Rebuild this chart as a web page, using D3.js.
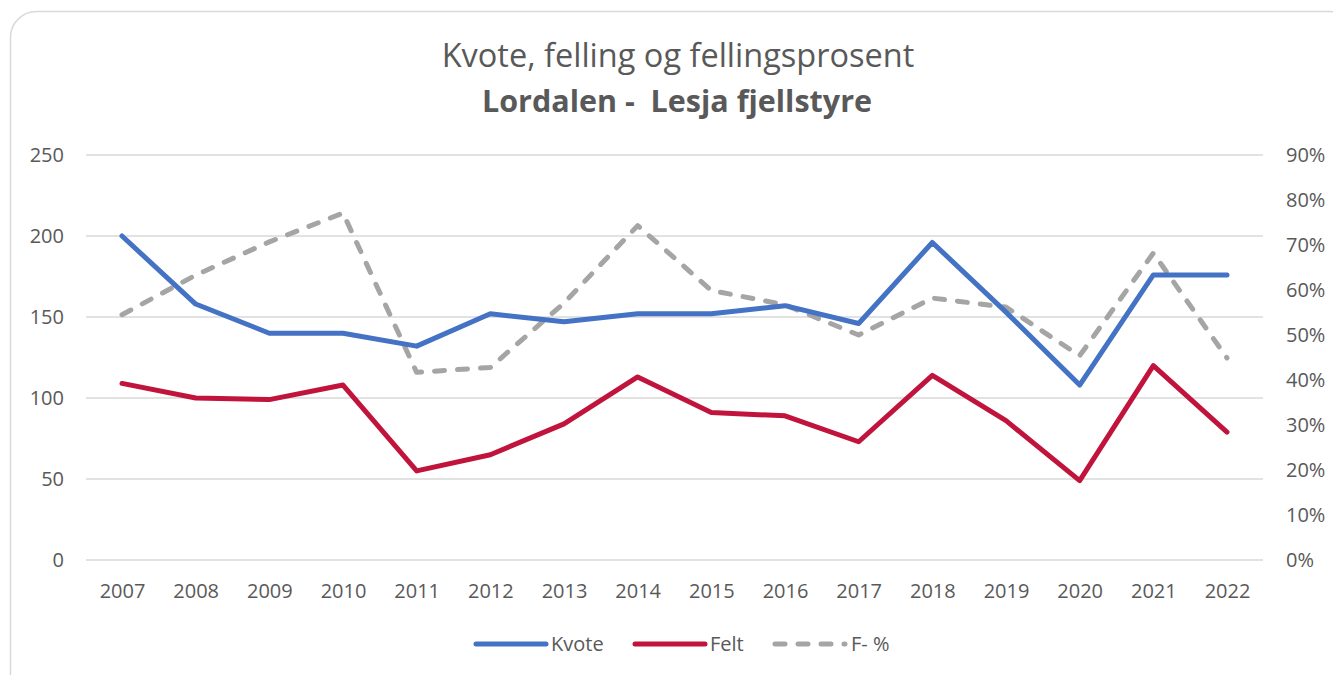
<!DOCTYPE html>
<html>
<head>
<meta charset="utf-8">
<script src="https://cdn.jsdelivr.net/npm/d3@7"></script>
<style>
  body { margin: 0; background: #fff; }
  text { font-family: "Open Sans", "Liberation Sans", sans-serif; fill: #595959; }
</style>
</head>
<body>
<div id="chart"></div>
<script>
// Data
const years = ["2007","2008","2009","2010","2011","2012","2013","2014","2015","2016","2017","2018","2019","2020","2021","2022"];
const kvote = [200, 158, 140, 140, 132, 152, 147, 152, 152, 157, 146, 196, 153, 108, 176, 176];
const felt  = [109, 100, 99, 108, 55, 65, 84, 113, 91, 89, 73, 114, 86, 49, 120, 79];
const fPct  = [0.545, 0.633, 0.707, 0.771, 0.417, 0.428, 0.571, 0.743, 0.599, 0.567, 0.50, 0.582, 0.562, 0.454, 0.682, 0.449];
const leftTicks = [0, 50, 100, 150, 200, 250];
const rightTicks = [0, 0.1, 0.2, 0.3, 0.4, 0.5, 0.6, 0.7, 0.8, 0.9];

const W = 1333, H = 675;
const svg = d3.select("#chart").append("svg")
    .attr("width", W)
    .attr("height", H);

// chart border
svg.append("rect")
    .attr("x", 10.5).attr("y", 11.5)
    .attr("width", 1345).attr("height", 690)
    .attr("rx", 26)
    .attr("fill", "#fff")
    .attr("stroke", "#d9d9d9")
    .attr("stroke-width", 1.5);

const plotLeft = 86, plotRight = 1263, plotTop = 155, plotBottom = 560;

const x = d3.scalePoint()
    .domain(years)
    .range([122, 1227]);

const yL = d3.scaleLinear().domain([0, 250]).range([plotBottom, plotTop]);
const yR = d3.scaleLinear().domain([0, 0.9]).range([plotBottom, plotTop]);

// gridlines
svg.append("g")
    .selectAll("line")
    .data(leftTicks)
    .join("line")
    .attr("x1", plotLeft).attr("x2", plotRight)
    .attr("y1", d => yL(d)).attr("y2", d => yL(d))
    .attr("stroke", "#d9d9d9")
    .attr("stroke-width", 1.3);

const tickFont = "20px";

// left axis
const leftAxis = svg.append("g")
    .attr("transform", `translate(64,0)`)
    .call(d3.axisLeft(yL).tickValues(leftTicks).tickSize(0).tickPadding(0));
leftAxis.select(".domain").remove();
leftAxis.selectAll("text").style("font-size", tickFont).attr("fill", "#595959");

// right axis
const rightAxis = svg.append("g")
    .attr("transform", `translate(1286,0)`)
    .call(d3.axisRight(yR).tickValues(rightTicks).tickFormat(d3.format(".0%")).tickSize(0).tickPadding(0));
rightAxis.select(".domain").remove();
rightAxis.selectAll("text").style("font-size", tickFont).attr("fill", "#595959");

// x axis
const xAxis = svg.append("g")
    .attr("transform", `translate(0,584)`)
    .call(d3.axisBottom(x).tickSize(0).tickPadding(0));
xAxis.select(".domain").remove();
xAxis.selectAll("text").style("font-size", tickFont).attr("fill", "#595959").attr("dy", "0.71em");

// lines
const lineL = d3.line().x((d, i) => x(years[i])).y(d => yL(d));
const lineR = d3.line().x((d, i) => x(years[i])).y(d => yR(d));

svg.append("path")
    .datum(fPct)
    .attr("d", lineR)
    .attr("fill", "none")
    .attr("stroke", "#a5a5a5")
    .attr("stroke-width", 5)
    .attr("stroke-dasharray", "10,13")
    .attr("stroke-linecap", "round")
    .attr("stroke-linejoin", "round");

svg.append("path")
    .datum(kvote)
    .attr("d", lineL)
    .attr("fill", "none")
    .attr("stroke", "#4472c4")
    .attr("stroke-width", 5)
    .attr("stroke-linecap", "round")
    .attr("stroke-linejoin", "round");

svg.append("path")
    .datum(felt)
    .attr("d", lineL)
    .attr("fill", "none")
    .attr("stroke", "#c0143c")
    .attr("stroke-width", 5)
    .attr("stroke-linecap", "round")
    .attr("stroke-linejoin", "round");

// title
svg.append("text")
    .attr("x", 678).attr("y", 67)
    .attr("text-anchor", "middle")
    .style("font-size", "32.5px")
    .text("Kvote, felling og fellingsprosent");

svg.append("text")
    .attr("x", 677).attr("y", 112)
    .attr("text-anchor", "middle")
    .style("font-size", "30.5px")
    .style("font-weight", "bold")
    .attr("xml:space", "preserve")
    .text("Lordalen -  Lesja fjellstyre");

// legend
const legendItems = [
    { name: "Kvote", color: "#4472c4", dash: null, x: 476 },
    { name: "Felt", color: "#c0143c", dash: null, x: 635 },
    { name: "F- %", color: "#a5a5a5", dash: "10,13", x: 775 }
];
const legend = svg.append("g").attr("transform", "translate(0,644)");
legendItems.forEach(item => {
    legend.append("line")
        .attr("x1", item.x).attr("x2", item.x + 70)
        .attr("y1", 0).attr("y2", 0)
        .attr("stroke", item.color)
        .attr("stroke-width", 5)
        .attr("stroke-linecap", "round")
        .attr("stroke-dasharray", item.dash);
    legend.append("text")
        .attr("x", item.dash ? item.x + 76 : item.x + 75)
        .attr("y", 0)
        .attr("dy", "0.35em")
        .style("font-size", tickFont)
        .text(item.name);
});
</script>
</body>
</html>
